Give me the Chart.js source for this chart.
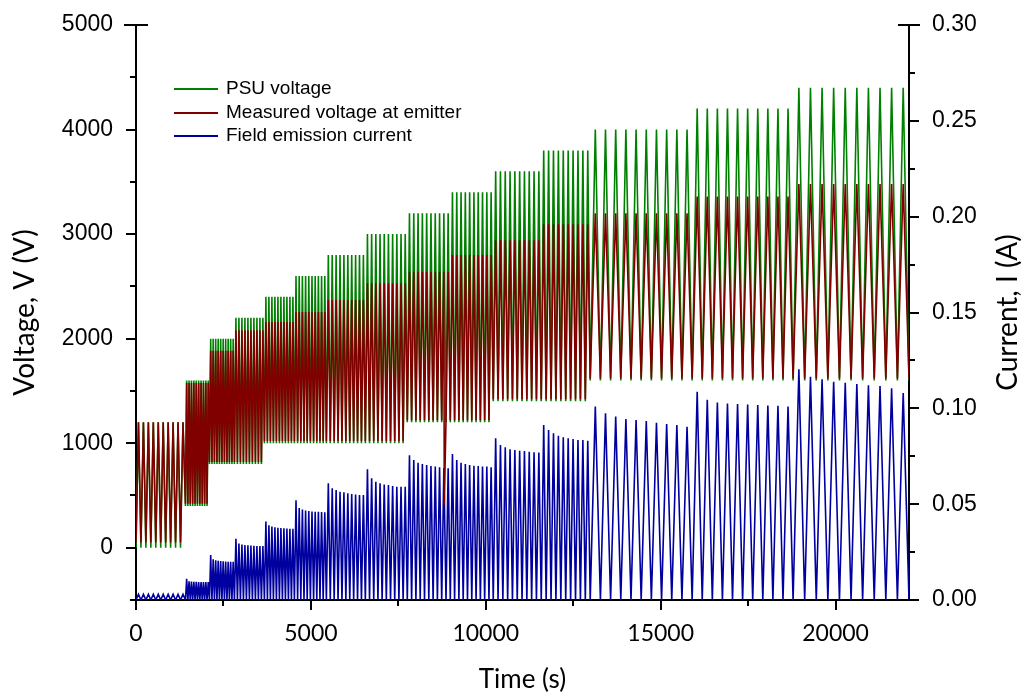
<!DOCTYPE html>
<html>
<head>
<meta charset="utf-8">
<script src="https://cdn.jsdelivr.net/npm/chart.js@4"></script>
<style>
  html, body { margin: 0; padding: 0; background: #fff; }
</style>
</head>
<body>
<canvas id="chart" width="1023" height="697"></canvas>
<script>
// step boundaries (s), one PSU voltage step between each pair
const stepTimes = [0, 1414, 2100, 2814, 3671, 4529, 5443, 6557, 7757, 8986, 10214, 11586, 12986, 15900, 18786, 22100];

// PSU voltage per step (V)
const psuHigh = [1200, 1600, 2000, 2200, 2400, 2600, 2800, 3000, 3200, 3400, 3600, 3800, 4000, 4200, 4400];
const psuLow = [0, 400, 800, 800, 1000, 1000, 1000, 1000, 1200, 1200, 1400, 1400, 1600, 1600, 1600];

// measured voltage at emitter per step (V)
const emitterHigh = [1200, 1575, 1885, 2080, 2160, 2255, 2370, 2530, 2640, 2800, 2940, 3095, 3200, 3360, 3480];
const emitterLow = [50, 420, 820, 820, 1020, 1020, 1020, 1020, 1220, 1220, 1420, 1420, 1620, 1620, 1620];

// single dip of the emitter voltage
const glitchTime = [8814];
const glitchVolt = [410];

// field emission current, peak of each cycle (A)
const currentPeaks = [
  [0.0030, 0.0030, 0.0030, 0.0030, 0.0030, 0.0030, 0.0030, 0.0030, 0.0030, 0.0030],
  [0.0110, 0.0098, 0.0096, 0.0095, 0.0095, 0.0094, 0.0094, 0.0094, 0.0094, 0.0094],
  [0.0235, 0.0212, 0.0207, 0.0205, 0.0203, 0.0202, 0.0201, 0.0200, 0.0200, 0.0200],
  [0.0320, 0.0295, 0.0290, 0.0287, 0.0285, 0.0284, 0.0283, 0.0282, 0.0282, 0.0281],
  [0.0410, 0.0390, 0.0383, 0.0379, 0.0377, 0.0375, 0.0374, 0.0373, 0.0372, 0.0371],
  [0.0520, 0.0480, 0.0472, 0.0467, 0.0464, 0.0462, 0.0461, 0.0460, 0.0459, 0.0458],
  [0.0609, 0.0583, 0.0574, 0.0565, 0.0562, 0.0557, 0.0553, 0.0551, 0.0548, 0.0548],
  [0.0682, 0.0635, 0.0617, 0.0609, 0.0603, 0.0600, 0.0595, 0.0591, 0.0591, 0.0591],
  [0.0755, 0.0730, 0.0716, 0.0710, 0.0704, 0.0699, 0.0696, 0.0692, 0.0689, 0.0687],
  [0.0762, 0.0730, 0.0716, 0.0710, 0.0704, 0.0701, 0.0699, 0.0696, 0.0696, 0.0692],
  [0.0844, 0.0809, 0.0797, 0.0786, 0.0783, 0.0779, 0.0777, 0.0774, 0.0771, 0.0769],
  [0.0913, 0.0887, 0.0870, 0.0857, 0.0849, 0.0844, 0.0840, 0.0835, 0.0835, 0.0831],
  [0.1009, 0.0974, 0.0957, 0.0944, 0.0939, 0.0934, 0.0925, 0.0918, 0.0913, 0.0904],
  [0.1087, 0.1045, 0.1030, 0.1025, 0.1022, 0.1020, 0.1017, 0.1015, 0.1013, 0.1010],
  [0.1204, 0.1165, 0.1151, 0.1139, 0.1134, 0.1127, 0.1120, 0.1117, 0.1105, 0.1080]
];
const currentBase = [0, 0, 0, 0, 0, 0, 0, 0, 0, 0, 0, 0, 0, 0, 0];

// axis ticks
const timeTicks = [0, 5000, 10000, 15000, 20000];
const timeMinor = [2500, 7500, 12500, 17500];
const voltTicks = [0, 1000, 2000, 3000, 4000, 5000];
const voltMinor = [-500, 500, 1500, 2500, 3500, 4500];
const currTicks = [0, 0.05, 0.10, 0.15, 0.20, 0.25, 0.30];
const currMinor = [0.025, 0.075, 0.125, 0.175, 0.225, 0.275];

// build the cycles of one trace: low -> high -> low, one cycle per peak entry
function buildTrace(lows, highs) {
  const pts = [];
  for (let s = 0; s < currentPeaks.length; s++) {
    const t0 = stepTimes[s];
    const n = currentPeaks[s].length;
    const p = (stepTimes[s + 1] - t0) / n;
    for (let k = 0; k < n; k++) {
      const hi = Array.isArray(highs[s]) ? highs[s][k] : highs[s];
      pts.push({ x: t0 + k * p, y: lows[s] });
      pts.push({ x: t0 + (k + 0.5) * p, y: hi });
    }
  }
  pts.push({ x: stepTimes[stepTimes.length - 1], y: lows[lows.length - 1] });
  return pts;
}

const psuData = buildTrace(psuLow, psuHigh);
const emitterData = buildTrace(emitterLow, emitterHigh);
glitchTime.forEach((t, i) => emitterData.push({ x: t, y: glitchVolt[i] }));
emitterData.sort((a, b) => a.x - b.x);
const currentData = buildTrace(currentBase, currentPeaks);

const GREEN = "#008000";
const RED = "#800000";
const BLUE = "#0000a0";

const setTicks = (arr) => (scale) => { scale.ticks = arr.map(v => ({ value: v })); };
const noPad = (s) => { s.paddingTop = 0; s.paddingBottom = 0; s.paddingLeft = 0; s.paddingRight = 0; };

// tick marks, titles and legend
const decor = {
  id: "decor",
  afterDraw(chart) {
    const { ctx, chartArea: a, scales } = chart;
    ctx.save();
    ctx.strokeStyle = "#000";
    ctx.lineWidth = 2;
    ctx.beginPath();
    timeTicks.concat(timeMinor).forEach(v => {
      const px = Math.round(scales.x.getPixelForValue(v));
      const len = timeTicks.includes(v) ? 10 : 6;
      ctx.moveTo(px, a.bottom); ctx.lineTo(px, a.bottom + len);
    });
    voltTicks.concat(voltMinor).forEach(v => {
      const py = Math.round(scales.y.getPixelForValue(v));
      const len = voltTicks.includes(v) ? 10 : 6;
      ctx.moveTo(a.left, py); ctx.lineTo(a.left - len, py);
    });
    currTicks.concat(currMinor).forEach(v => {
      const py = Math.round(scales.y1.getPixelForValue(v));
      const len = currTicks.includes(v) ? 10 : 6;
      ctx.moveTo(a.right, py); ctx.lineTo(a.right + len, py);
    });
    // caps at the top of both y axes
    ctx.moveTo(a.left - 12, a.top); ctx.lineTo(a.left + 12, a.top);
    ctx.moveTo(a.right - 11, a.top); ctx.lineTo(a.right + 11, a.top);
    ctx.stroke();

    // axis titles
    ctx.fillStyle = "#000";
    ctx.textAlign = "center";
    ctx.textBaseline = "middle";
    ctx.font = "26px Lato";
    ctx.fillText("Time (s)", (a.left + a.right) / 2, a.bottom + 80);
    const midY = (a.top + a.bottom) / 2;
    ctx.font = "28px Lato";
    ctx.save();
    ctx.translate(25, midY);
    ctx.rotate(-Math.PI / 2);
    ctx.fillText("Voltage, V (V)", 0, 0);
    ctx.restore();
    ctx.save();
    ctx.translate(1008, midY);
    ctx.rotate(-Math.PI / 2);
    ctx.fillText("Current, I (A)", 0, 0);
    ctx.restore();

    // legend
    ctx.font = "19px 'Liberation Sans'";
    ctx.textAlign = "left";
    const rowsY = [a.top + 64, a.top + 88, a.top + 111];
    chart.data.datasets.forEach((ds, i) => {
      const y = rowsY[i];
      ctx.strokeStyle = ds.borderColor;
      ctx.lineWidth = 2;
      ctx.beginPath();
      ctx.moveTo(a.left + 38, y); ctx.lineTo(a.left + 82, y);
      ctx.stroke();
      ctx.fillText(ds.label, a.left + 90, y);
    });
    ctx.restore();
  }
};

new Chart(document.getElementById("chart"), {
  type: "line",
  data: {
    datasets: [
      { label: "PSU voltage", data: psuData, borderColor: GREEN, borderWidth: 1.6, yAxisID: "y", order: 2 },
      { label: "Measured voltage at emitter", data: emitterData, borderColor: RED, borderWidth: 1.6, yAxisID: "y", order: 0 },
      { label: "Field emission current", data: currentData, borderColor: BLUE, borderWidth: 1.6, yAxisID: "y1", order: 1 }
    ]
  },
  options: {
    responsive: false,
    animation: false,
    parsing: false,
    elements: { point: { radius: 0 }, line: { tension: 0 } },
    layout: { padding: { top: 25, left: 0, right: 0, bottom: 0 } },
    plugins: { legend: { display: false }, tooltip: { enabled: false } },
    scales: {
      x: {
        type: "linear",
        min: 0, max: 22100,
        afterBuildTicks: setTicks(timeTicks),
        afterFit: (s) => { s.height = 97; noPad(s); },
        grid: { display: false, drawTicks: false },
        border: { display: true, color: "#000", width: 2 },
        ticks: {
          autoSkip: false, maxRotation: 0, padding: 20, color: "#000",
          font: { family: "Lato", size: 23 },
          callback: (v) => String(v)
        }
      },
      y: {
        position: "left",
        min: -500, max: 5000,
        afterBuildTicks: setTicks(voltTicks),
        afterFit: (s) => { s.width = 136; noPad(s); },
        grid: { display: false, drawTicks: false },
        border: { display: true, color: "#000", width: 2 },
        ticks: {
          padding: 23, color: "#000",
          font: { family: "Liberation Sans", size: 23 },
          callback: (v) => String(v)
        }
      },
      y1: {
        position: "right",
        min: 0, max: 0.30,
        afterBuildTicks: setTicks(currTicks),
        afterFit: (s) => { s.width = 114; noPad(s); },
        grid: { display: false, drawTicks: false },
        border: { display: true, color: "#000", width: 2 },
        ticks: {
          padding: 23, color: "#000",
          font: { family: "Liberation Sans", size: 23 },
          callback: (v) => v.toFixed(2)
        }
      }
    }
  },
  plugins: [decor]
});
</script>
</body>
</html>
